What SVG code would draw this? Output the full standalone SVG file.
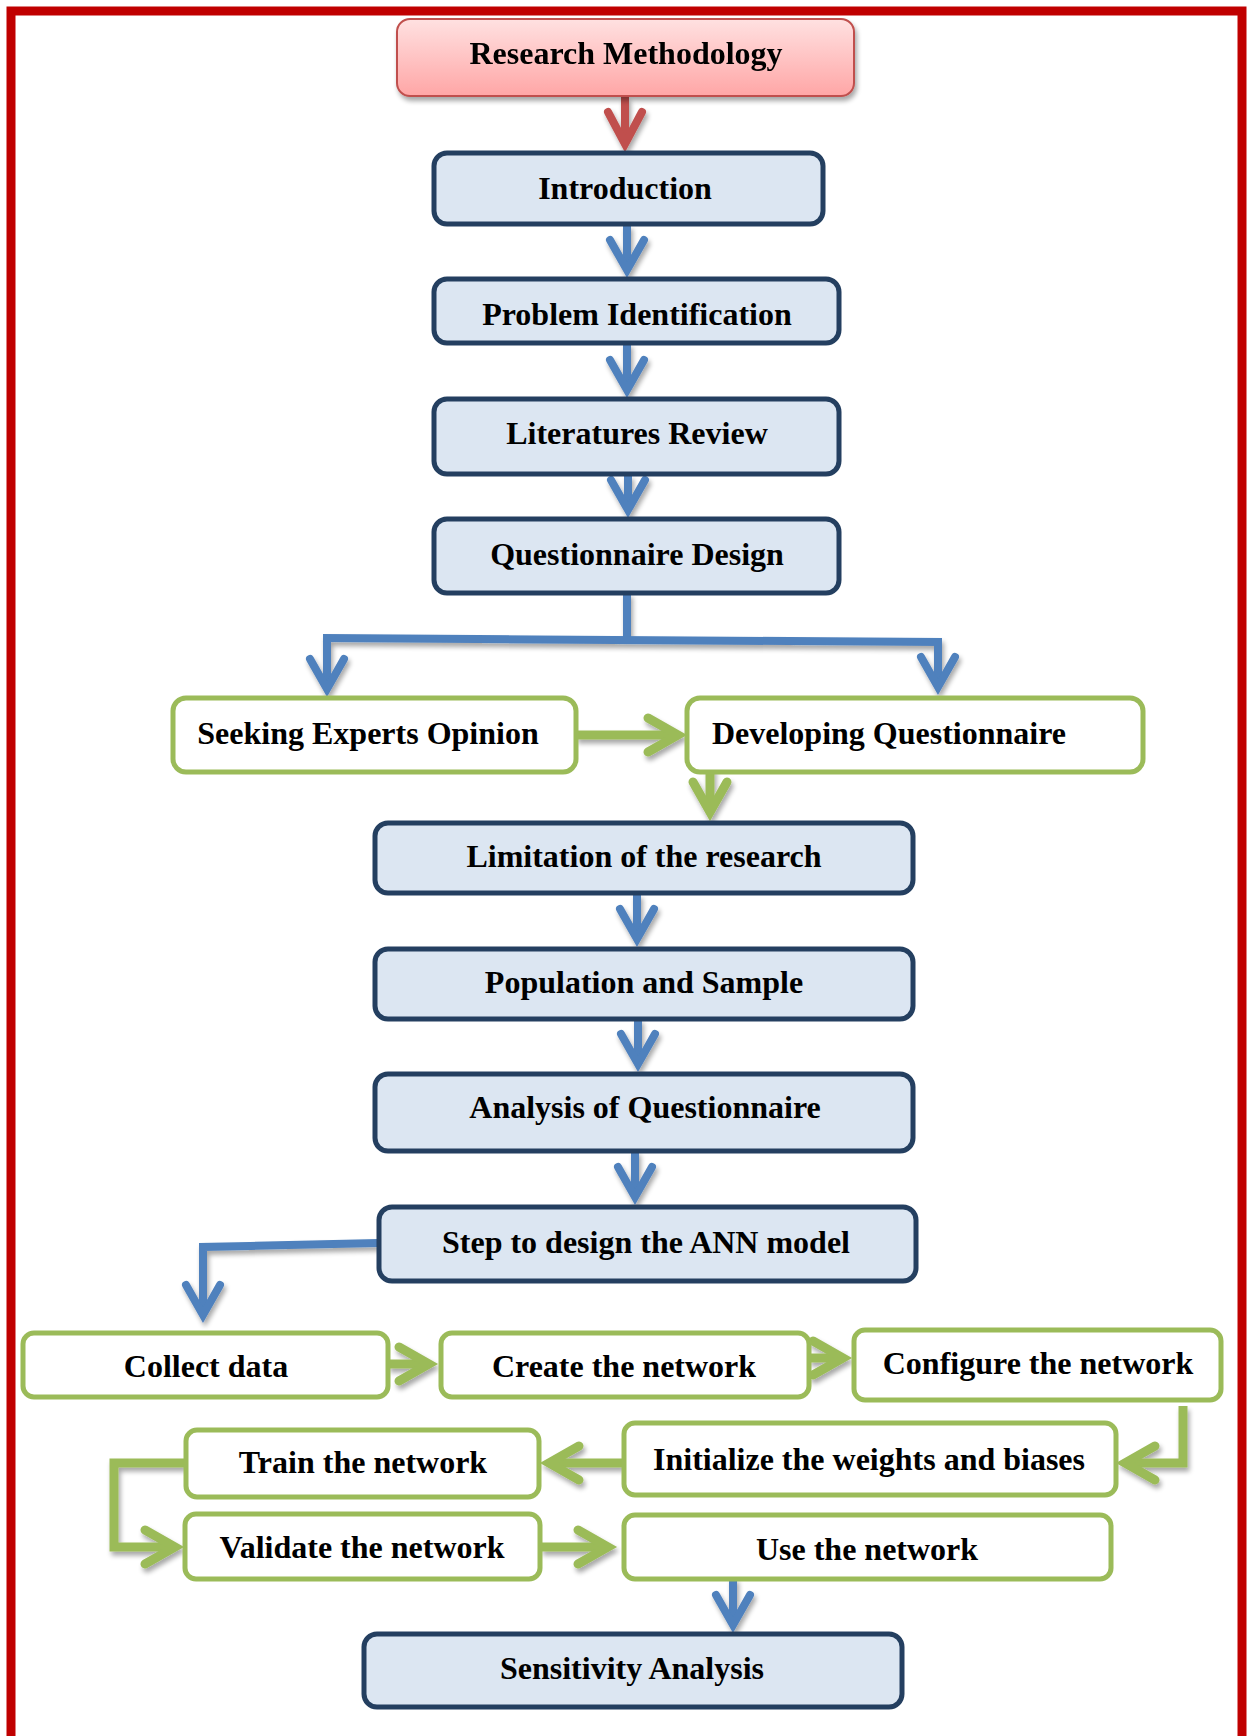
<svg xmlns="http://www.w3.org/2000/svg" width="1247" height="1736" viewBox="0 0 1247 1736">
  <defs>
    <style>
      .lbl { font-family: "Liberation Serif", "Times New Roman", serif; font-weight: bold; font-size: 32px; fill: #000; text-anchor: middle; }
      .blue-box { fill: #DCE6F2; stroke: #243F60; stroke-width: 5; }
      .green-box { fill: #FFFFFF; stroke: #9BBB59; stroke-width: 5; }
      .title-box { fill: url(#pinkGrad); stroke: #C0504D; stroke-width: 2; }
      .c-blue { fill: none; stroke: #4F81BD; stroke-width: 8; stroke-linejoin: miter; marker-end: url(#ahBlue); }
      .c-blue-plain { fill: none; stroke: #4F81BD; stroke-width: 8; stroke-linejoin: miter; }
      .c-green { fill: none; stroke: #9BBB59; stroke-width: 9; stroke-linejoin: miter; marker-end: url(#ahGreen); }
      .c-red { fill: none; stroke: #C0504D; stroke-width: 8; marker-end: url(#ahRed); }
    </style>
    <linearGradient id="pinkGrad" x1="0" y1="0" x2="0" y2="1">
      <stop offset="0" stop-color="#FFE1E1"/>
      <stop offset="1" stop-color="#FFA6A6"/>
    </linearGradient>
    <filter id="shadow" x="-10%" y="-10%" width="130%" height="140%">
      <feGaussianBlur in="SourceAlpha" stdDeviation="2.5"/>
      <feOffset dx="2" dy="4" result="off"/>
      <feComponentTransfer><feFuncA type="linear" slope="0.35"/></feComponentTransfer>
      <feMerge><feMergeNode/><feMergeNode in="SourceGraphic"/></feMerge>
    </filter>
    <marker id="ahBlue" markerUnits="userSpaceOnUse" orient="auto" overflow="visible" refX="0" refY="0" markerWidth="1" markerHeight="1">
      <path d="M-30,-17 L0,0 L-30,17" fill="none" stroke="#4F81BD" stroke-width="8" stroke-linecap="round" stroke-linejoin="miter"/>
    </marker>
    <marker id="ahGreen" markerUnits="userSpaceOnUse" orient="auto" overflow="visible" refX="0" refY="0" markerWidth="1" markerHeight="1">
      <path d="M-30,-17 L0,0 L-30,17" fill="none" stroke="#9BBB59" stroke-width="9" stroke-linecap="round" stroke-linejoin="miter"/>
    </marker>
    <marker id="ahRed" markerUnits="userSpaceOnUse" orient="auto" overflow="visible" refX="0" refY="0" markerWidth="1" markerHeight="1">
      <path d="M-32,-17 L0,0 L-32,17" fill="none" stroke="#C0504D" stroke-width="8" stroke-linecap="round" stroke-linejoin="miter"/>
    </marker>
  </defs>

  <!-- page and red frame -->
  <rect x="0" y="0" width="1247" height="1736" fill="#FFFFFF"/>
  <rect x="11" y="11" width="1231" height="1730" fill="none" stroke="#C00000" stroke-width="9"/>

  <!-- connectors -->
  <g id="connectors" filter="url(#shadow)">
    <path class="c-red" d="M625,97 L625,144"/>
    <path class="c-blue" d="M627,225 L627,270"/>
    <path class="c-blue" d="M627,343 L627,390"/>
    <path class="c-blue" d="M628,475 L628,510"/>
    <path class="c-blue-plain" d="M627,593 L627,640"/>
    <path class="c-blue-plain" d="M323,638 L942,642"/>
    <path class="c-blue" d="M327,638 L327,689"/>
    <path class="c-blue" d="M938,642 L938,687"/>
    <path class="c-green" d="M576,735 L678,735"/>
    <path class="c-green" d="M710,767 L710,812"/>
    <path class="c-blue" d="M637,894 L637,939"/>
    <path class="c-blue" d="M638,1019 L638,1064"/>
    <path class="c-blue" d="M635,1151 L635,1197"/>
    <path class="c-blue" d="M378,1243 L203,1247 L203,1315"/>
    <path class="c-green" d="M388,1364 L429,1364"/>
    <path class="c-green" d="M809,1358 L843,1358"/>
    <path class="c-green" d="M1183,1406 L1183,1463 L1125,1463"/>
    <path class="c-green" d="M623,1463 L549,1463"/>
    <path class="c-green" d="M185,1463 L114,1463 L114,1547 L175,1547"/>
    <path class="c-green" d="M541,1547 L608,1547"/>
    <path class="c-blue" d="M733,1578 L733,1625"/>
  </g>

  <!-- nodes -->
  <g id="research-methodology" filter="url(#shadow)">
    <rect class="title-box" x="397" y="19" width="457" height="77" rx="13"/>
    <text class="lbl" x="626" y="64">Research Methodology</text>
  </g>
  <g id="introduction">
    <rect class="blue-box" x="434" y="153" width="389" height="71" rx="13"/>
    <text class="lbl" x="625" y="199">Introduction</text>
  </g>
  <g id="problem-identification">
    <rect class="blue-box" x="434" y="279" width="405" height="64" rx="13"/>
    <text class="lbl" x="637" y="325">Problem Identification</text>
  </g>
  <g id="literatures-review">
    <rect class="blue-box" x="434" y="399" width="405" height="75" rx="13"/>
    <text class="lbl" x="637" y="444">Literatures Review</text>
  </g>
  <g id="questionnaire-design">
    <rect class="blue-box" x="434" y="519" width="405" height="74" rx="13"/>
    <text class="lbl" x="637" y="565">Questionnaire Design</text>
  </g>
  <g id="seeking-experts-opinion">
    <rect class="green-box" x="173" y="698" width="403" height="74" rx="13"/>
    <text class="lbl" x="368" y="744">Seeking Experts Opinion</text>
  </g>
  <g id="developing-questionnaire">
    <rect class="green-box" x="687" y="698" width="456" height="74" rx="13"/>
    <text class="lbl" x="889" y="744">Developing Questionnaire</text>
  </g>
  <g id="limitation">
    <rect class="blue-box" x="375" y="823" width="538" height="70" rx="13"/>
    <text class="lbl" x="644" y="867">Limitation of the research</text>
  </g>
  <g id="population-sample">
    <rect class="blue-box" x="375" y="949" width="538" height="70" rx="13"/>
    <text class="lbl" x="644" y="993">Population and Sample</text>
  </g>
  <g id="analysis-questionnaire">
    <rect class="blue-box" x="375" y="1074" width="538" height="77" rx="13"/>
    <text class="lbl" x="645" y="1118">Analysis of Questionnaire</text>
  </g>
  <g id="ann-steps">
    <rect class="blue-box" x="379" y="1207" width="537" height="74" rx="13"/>
    <text class="lbl" x="646" y="1253">Step to design the ANN model</text>
  </g>
  <g id="collect-data">
    <rect class="green-box" x="23" y="1333" width="365" height="64" rx="11"/>
    <text class="lbl" x="206" y="1377">Collect data</text>
  </g>
  <g id="create-network">
    <rect class="green-box" x="441" y="1333" width="368" height="64" rx="11"/>
    <text class="lbl" x="624" y="1377">Create the network</text>
  </g>
  <g id="configure-network">
    <rect class="green-box" x="854" y="1330" width="367" height="70" rx="11"/>
    <text class="lbl" x="1038" y="1374">Configure the network</text>
  </g>
  <g id="initialize-weights">
    <rect class="green-box" x="624" y="1423" width="492" height="72" rx="11"/>
    <text class="lbl" x="869" y="1470">Initialize the weights and biases</text>
  </g>
  <g id="train-network">
    <rect class="green-box" x="186" y="1430" width="353" height="67" rx="11"/>
    <text class="lbl" x="363" y="1473">Train the network</text>
  </g>
  <g id="validate-network">
    <rect class="green-box" x="185" y="1514" width="355" height="65" rx="11"/>
    <text class="lbl" x="362" y="1558">Validate the network</text>
  </g>
  <g id="use-network">
    <rect class="green-box" x="624" y="1515" width="487" height="64" rx="11"/>
    <text class="lbl" x="867" y="1560">Use the network</text>
  </g>
  <g id="sensitivity-analysis">
    <rect class="blue-box" x="364" y="1634" width="538" height="73" rx="13"/>
    <text class="lbl" x="632" y="1679">Sensitivity Analysis</text>
  </g>
</svg>
